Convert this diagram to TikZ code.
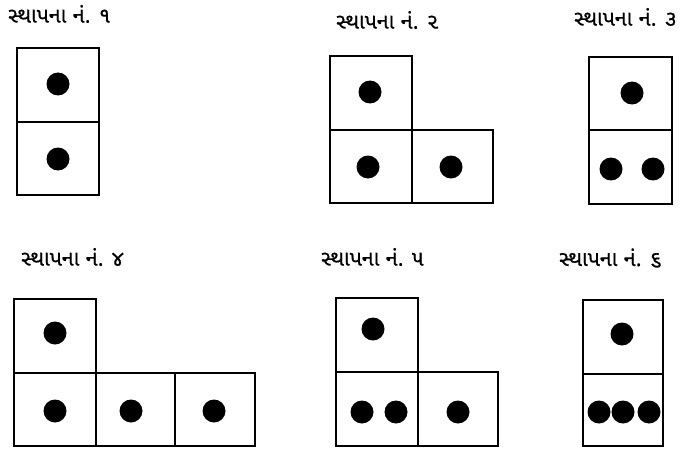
\documentclass[tikz,border=0pt]{standalone}
\usepackage{fontspec}
\newfontfamily\guj[Script=Gujarati,FakeBold=0.6]{Noto Sans Gujarati UI}
\begin{document}
\begin{tikzpicture}[x=1pt,y=-1pt,
  cell/.style={draw=black,line width=2.2pt},
  dot/.style={fill=black},
  lbl/.style={font=\guj\fontsize{21.5}{23}\selectfont,anchor=west,inner sep=0pt,text=black}]
\useasboundingbox (0,0) rectangle (691,452);
% labels
\node[lbl] (l1) at (8,14) {સ્થાપના નં. ૧};
\node[lbl] (l2) at (336,20) {સ્થાપના નં. ૨};
\node[lbl] (l3) at (574,17) {સ્થાપના નં. ૩};
\node[lbl] (l4) at (21,257) {સ્થાપના નં. ૪};
\node[lbl] (l5) at (321,257) {સ્થાપના નં. ૫};
\node[lbl] (l6) at (559,258) {સ્થાપના નં. ૬};
% figure 1
\draw[cell] (17,48) rectangle (99,122);
\draw[cell] (17,122) rectangle (99,195);
\fill[dot] (58,84) circle (11.5);
\fill[dot] (58,159) circle (11.5);
% figure 2
\draw[cell] (330,56) rectangle (412,130);
\draw[cell] (330,130) rectangle (412,203);
\draw[cell] (412,130) rectangle (493,203);
\fill[dot] (370,92) circle (11.5);
\fill[dot] (368,167) circle (11.5);
\fill[dot] (451,167) circle (11.5);
% figure 3
\draw[cell] (589,57) rectangle (672,130);
\draw[cell] (589,130) rectangle (672,204);
\fill[dot] (632,93) circle (11.5);
\fill[dot] (611,169) circle (11.5);
\fill[dot] (653,169) circle (11.5);
% figure 4
\draw[cell] (14,299) rectangle (96,373);
\draw[cell] (14,373) rectangle (96,446);
\draw[cell] (96,373) rectangle (175,446);
\draw[cell] (175,373) rectangle (255,446);
\fill[dot] (55,333) circle (11.5);
\fill[dot] (55,411) circle (11.5);
\fill[dot] (131,411) circle (11.5);
\fill[dot] (214,411) circle (11.5);
% figure 5
\draw[cell] (336,298) rectangle (418,372);
\draw[cell] (336,372) rectangle (418,446);
\draw[cell] (418,372) rectangle (498,446);
\fill[dot] (373,329) circle (11.5);
\fill[dot] (362,412) circle (11.5);
\fill[dot] (396,412) circle (11.5);
\fill[dot] (458,412) circle (11.5);
% figure 6
\draw[cell] (583,300) rectangle (663,374);
\draw[cell] (583,374) rectangle (663,446);
\fill[dot] (622,334) circle (11.5);
\fill[dot] (599,412) circle (11.5);
\fill[dot] (623,412) circle (11.5);
\fill[dot] (649,412) circle (11.5);
\end{tikzpicture}
\end{document}
